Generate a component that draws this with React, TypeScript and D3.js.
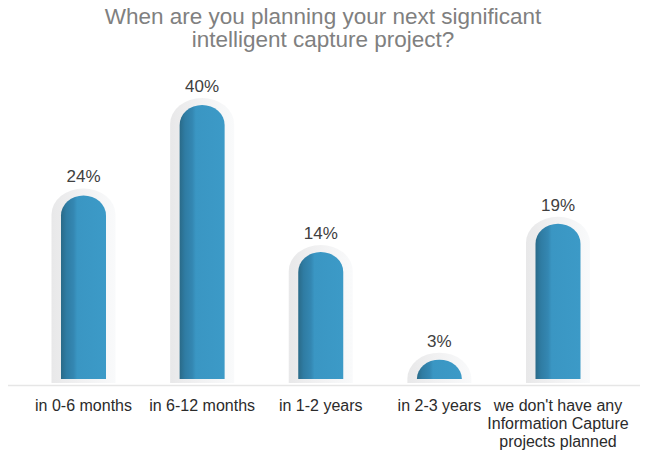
import React from "react";
import * as d3 from "d3";

const titleLines = ["When are you planning your next significant", "intelligent capture project?"];
const categories = [
  "in 0-6 months",
  "in 6-12 months",
  "in 1-2 years",
  "in 2-3 years",
  "we don't have any\nInformation Capture\nprojects planned",
];
const values = [24, 40, 14, 3, 19];

const W = 646;
const H = 454;
const baseY = 379;
const barW = 45;
const capRy = 20;
const halo = 9.5;

export default function App() {
  const x = d3.scalePoint<string>().domain(categories).range([83.5, 558]);
  const y = d3.scaleLinear().domain([0, 14, 40]).range([389, 252, 105]);

  const barPath = (cx: number, top: number, w: number, ry: number, bottom: number) => {
    const rx = w / 2;
    const h = bottom - top;
    const r = Math.min(ry, h);
    return (
      `M${cx - rx},${bottom} L${cx - rx},${top + r} ` +
      `A${rx},${r} 0 0 1 ${cx + rx},${top + r} L${cx + rx},${bottom} Z`
    );
  };

  return (
    <svg
      width={W}
      height={H}
      style={{ position: "absolute", left: 0, top: 0, display: "block", background: "#fff" }}
      fontFamily="'Liberation Sans', Arial, sans-serif"
    >
      <defs>
        <linearGradient id="barGrad" x1="0" x2="1" y1="0" y2="0">
          <stop offset="0%" stopColor="#2a6a88" />
          <stop offset="12%" stopColor="#2f7ca3" />
          <stop offset="28%" stopColor="#3487b2" />
          <stop offset="36%" stopColor="#3a96c3" />
          <stop offset="100%" stopColor="#3c9ac7" />
        </linearGradient>
        <linearGradient id="haloGrad" x1="0" x2="1" y1="0" y2="0">
          <stop offset="0%" stopColor="#e8e8e9" />
          <stop offset="45%" stopColor="#f1f1f2" />
          <stop offset="100%" stopColor="#f9fafb" />
        </linearGradient>
      </defs>

      {titleLines.map((t, i) => (
        <text key={i} x={W / 2} y={24 + i * 23} textAnchor="middle" fontSize={22.5} fill="#808080">
          {t}
        </text>
      ))}

      <line x1={8} x2={640} y1={385.5} y2={385.5} stroke="#e6e6e6" strokeWidth={1.5} />

      {categories.map((c, i) => {
        const cx = x(c)!;
        const top = y(values[i]);
        return (
          <g key={c}>
            <path
              d={barPath(cx, top - 7, barW + halo * 2, capRy + 6, baseY + 4)}
              fill="url(#haloGrad)"
            />
            <path d={barPath(cx, top, barW, capRy, baseY)} fill="url(#barGrad)" />
            <text x={cx} y={top - 13} textAnchor="middle" fontSize={17} fill="#404040">
              {values[i]}%
            </text>
            {c.split("\n").map((line, j) => (
              <text key={j} x={cx} y={411 + j * 18} textAnchor="middle" fontSize={16} fill="#2b2b2b">
                {line}
              </text>
            ))}
          </g>
        );
      })}
    </svg>
  );
}
